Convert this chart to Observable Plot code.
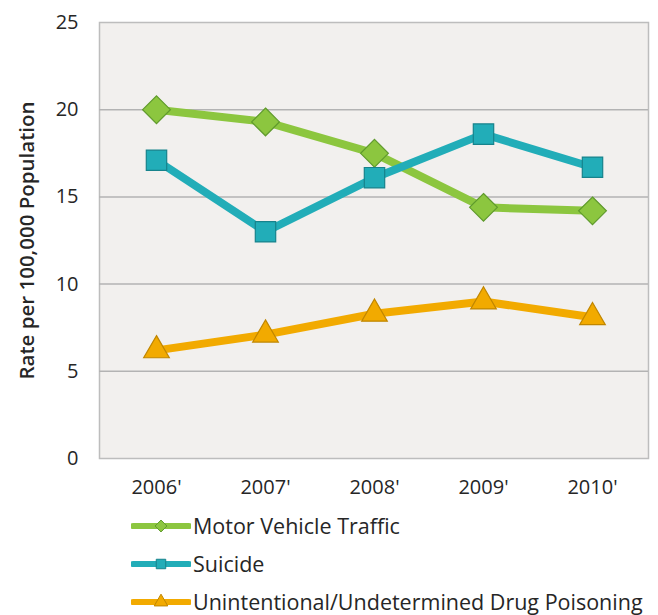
<!DOCTYPE html>
<html>
<head>
<meta charset="utf-8">
<script src="https://cdn.jsdelivr.net/npm/d3@7"></script>
<script src="https://cdn.jsdelivr.net/npm/@observablehq/plot@0.6"></script>
<style>
  body { margin: 0; background: #ffffff; font-family: "Open Sans", sans-serif; overflow: hidden; }
  #legend { margin-top: 2px; }
  .row { height: 38px; display: flex; align-items: center; padding-left: 131px; font-size: 21.5px; color: #262626; line-height: 1; white-space: nowrap; }
  .row svg { margin-right: 2px; }
  #chart g[aria-label$="tick label"], #chart g[aria-label$="tick label"] text { font-size: 20px !important; }
  #chart g[aria-label="y-axis label"] text { font-size: 20.5px !important; font-weight: 600; }
</style>
</head>
<body>
<div id="chart"></div>
<div id="legend"></div>
<script>
const years = ["2006'", "2007'", "2008'", "2009'", "2010'"];
const seriesNames = ["Motor Vehicle Traffic", "Suicide", "Unintentional/Undetermined Drug Poisoning"];
const motorVehicle = [20.0, 19.3, 17.5, 14.4, 14.2];
const suicide = [17.1, 13.0, 16.1, 18.6, 16.7];
const drugPoisoning = [6.2, 7.1, 8.3, 9.0, 8.1];
const yTicks = [0, 5, 10, 15, 20, 25];
const lineColors = ["#8cc63f", "#22adb8", "#f2aa00"];
const markerStroke = ["#5f9a2c", "#17838c", "#c08600"];
const symbols = ["diamond2", "square", "triangle"];
const markerR = [12.5, 11.5, 9.5];

const values = [motorVehicle, suicide, drugPoisoning];
const data = [];
seriesNames.forEach((s, i) => years.forEach((y, j) => data.push({series: s, year: y, value: values[i][j], idx: i})));

const marks = [
  Plot.frame({fill: "#f2f0ee", stroke: "#bdbdbd", strokeWidth: 1.5}),
  Plot.ruleY([5, 10, 15, 20], {stroke: "#b3b3b3", strokeWidth: 1.5}),
  Plot.axisY({ticks: yTicks, tickSize: 0, tickPadding: 21, label: "Rate per 100,000 Population", labelAnchor: "center", labelOffset: 80, labelArrow: "none"}),
  Plot.axisX({tickSize: 0, tickPadding: 21, label: null})
];
seriesNames.forEach((s, i) => {
  const d = data.filter(r => r.idx === i);
  marks.push(Plot.line(d, {x: "year", y: "value", stroke: lineColors[i], strokeWidth: 8, strokeLinejoin: "miter"}));
});
seriesNames.forEach((s, i) => {
  const d = data.filter(r => r.idx === i);
  marks.push(Plot.dot(d, {x: "year", y: "value", symbol: () => symbols[i], r: markerR[i], fill: lineColors[i], stroke: markerStroke[i], strokeWidth: 1.2}));
});

const chart = Plot.plot({
  width: 658,
  height: 505,
  marginTop: 22,
  marginBottom: 47,
  marginLeft: 99,
  marginRight: 10,
  style: {fontFamily: "Open Sans, sans-serif", color: "#262626", background: "#ffffff"},
  x: {type: "point", domain: years, padding: 0.5},
  y: {domain: [0, 25]},
  symbol: {type: "identity"},
  marks
});
document.getElementById("chart").appendChild(chart);

const legend = document.getElementById("legend");
const symbolPaths = {
  "diamond2": d3.symbol(d3.symbolDiamond2, 90)(),
  "square": d3.symbol(d3.symbolSquare, 90)(),
  "triangle": d3.symbol(d3.symbolTriangle, 80)()
};
seriesNames.forEach((s, i) => {
  const row = document.createElement("div");
  row.className = "row";
  row.innerHTML = `<svg width="60" height="20"><line x1="2" x2="58" y1="10" y2="10" stroke="${lineColors[i]}" stroke-width="6" stroke-linecap="round"/><path transform="translate(30,10)" d="${symbolPaths[symbols[i]]}" fill="${lineColors[i]}" stroke="${markerStroke[i]}" stroke-width="1"/></svg><span>${s}</span>`;
  legend.appendChild(row);
});
</script>
</body>
</html>
